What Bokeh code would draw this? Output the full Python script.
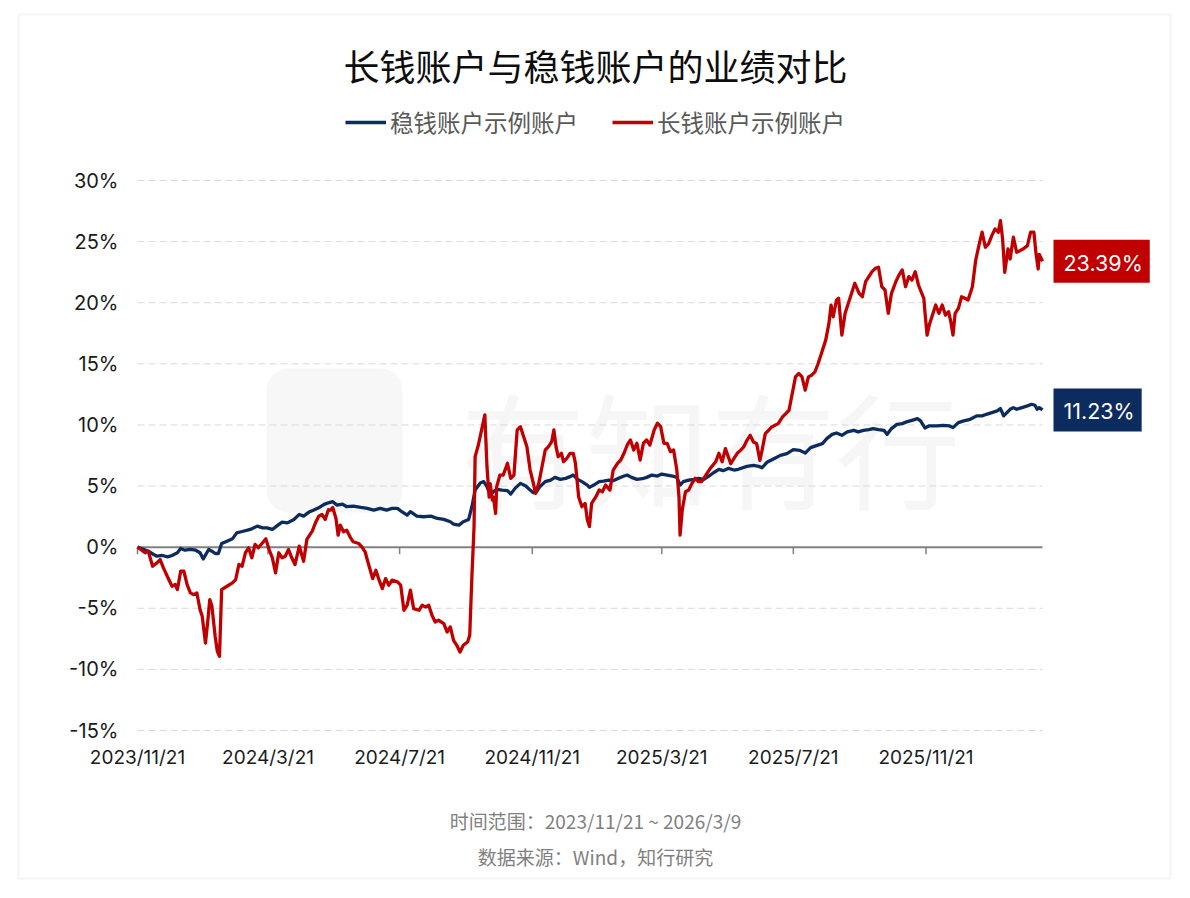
import pandas as pd
from bokeh.plotting import figure
from bokeh.core.properties import value
from bokeh.models import (ColumnDataSource, Range1d, Label, LabelSet, Legend, LegendItem,
                          BoxAnnotation)
from bokeh.embed import file_html
from bokeh.resources import INLINE

# ---------------- data ----------------
START_DATE = "2023-11-21"
END_DATE = "2026-03-09"

title_text = "长钱账户与稳钱账户的业绩对比"
series_names = ["稳钱账户示例账户", "长钱账户示例账户"]
x_tick_labels = ["2023/11/21", "2024/3/21", "2024/7/21", "2024/11/21",
                 "2025/3/21", "2025/7/21", "2025/11/21"]
y_ticks = [-15, -10, -5, 0, 5, 10, 15, 20, 25, 30]
footer_lines = ["时间范围：2023/11/21 ~ 2026/3/9", "数据来源：Wind，知行研究"]
watermark_text = "有知有行"

# (days since start, cumulative return %)
steady_points = [
    (0, 0.0), (6, -0.19), (10, -0.33), (15, -0.60), (18, -0.74), (23, -0.68), (28, -0.79),
    (32, -0.68), (37, -0.46), (40, -0.11), (44, -0.25), (49, -0.19), (54, -0.25), (58, -0.46),
    (61, -0.96), (66, -0.19), (69, -0.33), (72, -0.52), (75, -0.52), (78, 0.30), (83, 0.49),
    (88, 0.68), (92, 1.17), (97, 1.28), (102, 1.39), (106, 1.50), (111, 1.72), (116, 1.58),
    (120, 1.58), (125, 1.45), (129, 1.72), (134, 2.05), (139, 1.99), (145, 2.27), (150, 2.68),
    (154, 2.54), (159, 2.87), (163, 3.03), (168, 3.22), (173, 3.50), (177, 3.63), (181, 3.72),
    (185, 3.44), (190, 3.52), (194, 3.31), (200, 3.36), (207, 3.25), (213, 3.17), (219, 3.03),
    (225, 3.17), (231, 3.03), (236, 3.17), (241, 3.17), (245, 2.90), (250, 2.62), (253, 2.90),
    (259, 2.54), (265, 2.49), (272, 2.54), (278, 2.35), (284, 2.27), (290, 2.08), (293, 1.89),
    (298, 1.80), (302, 2.08), (307, 2.27), (310, 3.31), (313, 4.67), (318, 5.27), (321, 5.36),
    (324, 4.95), (327, 4.26), (330, 4.54), (333, 4.73), (338, 4.67), (343, 4.62), (346, 4.34),
    (350, 4.81), (355, 5.22), (360, 5.00), (364, 4.67), (367, 4.45), (370, 4.54), (373, 4.95),
    (378, 5.36), (383, 5.49), (387, 5.71), (392, 5.55), (397, 5.63), (401, 5.77), (404, 5.90),
    (408, 5.55), (412, 5.36), (417, 5.08), (419, 4.89), (423, 5.08), (428, 5.36), (432, 5.41),
    (437, 5.49), (441, 5.44), (446, 5.63), (451, 5.82), (454, 5.90), (458, 5.71), (463, 5.55),
    (468, 5.60), (472, 5.71), (477, 5.90), (482, 5.82), (486, 5.98), (491, 5.90), (496, 5.82),
    (500, 5.71), (503, 5.08), (506, 5.36), (511, 5.49), (516, 5.55), (520, 5.63), (525, 5.55),
    (529, 5.77), (534, 6.09), (539, 6.37), (543, 6.26), (548, 6.45), (553, 6.31), (557, 6.37),
    (565, 6.61), (571, 6.69), (576, 6.61), (579, 6.50), (584, 6.97), (590, 7.24), (596, 7.51),
    (602, 7.65), (608, 7.98), (614, 7.92), (619, 7.70), (624, 8.14), (630, 8.33), (635, 8.47),
    (639, 8.88), (644, 9.23), (648, 9.34), (653, 9.15), (658, 9.43), (664, 9.56), (668, 9.43),
    (673, 9.56), (678, 9.62), (682, 9.70), (687, 9.62), (692, 9.56), (695, 9.23), (699, 9.70),
    (704, 10.05), (709, 10.11), (713, 10.25), (718, 10.38), (723, 10.52), (726, 10.33),
    (730, 9.75), (734, 9.93), (741, 9.92), (747, 9.97), (753, 9.92), (756, 9.78), (761, 10.19),
    (766, 10.33), (772, 10.46), (778, 10.74), (783, 10.74), (787, 10.87), (792, 11.01),
    (797, 11.15), (800, 11.34), (803, 10.74), (806, 11.01), (809, 11.28), (812, 11.42),
    (815, 11.28), (820, 11.42), (825, 11.56), (829, 11.69), (832, 11.61), (834, 11.28),
    (836, 11.42), (839, 11.23),
]

long_points = [
    (0, 0.0), (3, -0.19), (7, -0.46), (10, -0.33), (14, -1.56), (18, -1.29), (21, -1.01),
    (24, -1.69), (29, -2.65), (32, -3.20), (35, -3.06), (37, -3.47), (40, -1.97), (43, -1.97),
    (46, -3.06), (49, -3.74), (52, -3.88), (55, -3.74), (58, -5.11), (60, -5.66), (63, -7.84),
    (65, -6.20), (67, -4.29), (69, -4.84), (72, -7.30), (74, -8.52), (76, -8.93), (78, -3.47),
    (83, -3.20), (88, -2.92), (91, -2.65), (94, -1.42), (97, -1.56), (100, -0.46), (103, -0.05),
    (106, -0.87), (109, 0.22), (112, -0.05), (116, 0.36), (119, 0.68), (122, -0.19), (125, -0.87),
    (128, -2.10), (131, -0.46), (134, -0.87), (137, -0.74), (140, -0.19), (143, -0.87),
    (146, -1.42), (150, 0.08), (154, -1.15), (157, 0.63), (162, 1.31), (165, 2.00), (168, 2.53),
    (171, 2.68), (174, 2.27), (177, 3.06), (179, 3.03), (181, 3.25), (184, 2.35), (186, 0.98),
    (188, 1.80), (191, 1.26), (194, 1.39), (197, 0.85), (200, 0.44), (205, 0.30), (208, 0.03),
    (211, -0.38), (214, -1.34), (218, -2.57), (221, -1.89), (224, -2.70), (227, -3.39),
    (230, -2.57), (233, -3.11), (236, -2.70), (241, -2.84), (244, -3.11), (247, -5.16),
    (250, -4.75), (253, -3.52), (256, -5.03), (261, -5.16), (264, -4.75), (267, -4.89),
    (270, -4.75), (273, -5.57), (276, -6.12), (279, -5.98), (284, -6.26), (287, -6.94),
    (290, -6.53), (293, -7.62), (296, -8.03), (299, -8.58), (302, -8.03), (306, -7.76),
    (308, -7.21), (310, -2.43), (312, 1.67), (313, 7.41), (316, 8.36), (319, 9.59), (322, 10.82),
    (324, 6.56), (326, 4.10), (327, 5.19), (329, 3.85), (330, 4.10), (332, 2.76), (333, 4.95),
    (336, 5.90), (339, 5.90), (343, 6.86), (346, 5.63), (349, 5.90), (352, 9.59), (355, 9.86),
    (358, 9.04), (361, 8.22), (364, 6.31), (367, 5.22), (369, 4.40), (372, 5.22), (375, 6.58),
    (378, 7.95), (381, 8.22), (384, 8.63), (386, 9.59), (388, 8.22), (390, 7.40), (393, 7.68),
    (395, 6.99), (398, 7.27), (401, 7.68), (404, 7.68), (406, 6.86), (409, 4.10), (412, 3.31),
    (415, 3.58), (417, 2.24), (419, 1.69), (421, 3.58), (425, 4.13), (428, 4.67), (431, 4.54),
    (434, 5.08), (438, 4.67), (441, 6.31), (445, 6.86), (448, 7.13), (451, 7.68), (454, 8.36),
    (457, 8.77), (460, 7.95), (463, 8.50), (466, 7.13), (469, 8.50), (472, 8.77), (475, 8.36),
    (479, 9.59), (482, 10.14), (485, 9.86), (488, 8.50), (491, 8.50), (494, 7.81), (497, 7.95),
    (500, 6.31), (502, 4.10), (503, 0.98), (505, 3.03), (508, 4.54), (511, 4.67), (514, 5.22),
    (517, 5.63), (520, 5.36), (523, 5.36), (526, 5.77), (531, 6.45), (536, 6.99), (539, 7.68),
    (542, 6.99), (545, 8.06), (550, 6.83), (553, 7.27), (556, 7.68), (559, 7.92), (562, 8.20),
    (565, 8.74), (568, 9.15), (571, 8.61), (574, 8.47), (577, 7.10), (579, 7.92), (582, 9.29),
    (585, 9.56), (588, 9.84), (591, 9.97), (594, 10.11), (598, 10.66), (601, 10.93), (604, 11.20),
    (607, 12.57), (610, 13.93), (613, 14.21), (616, 13.93), (619, 12.84), (622, 13.93),
    (625, 14.07), (628, 14.34), (631, 15.03), (635, 16.12), (638, 16.94), (641, 18.31),
    (643, 19.81), (645, 18.85), (648, 20.22), (650, 20.36), (653, 17.35), (656, 19.13),
    (659, 19.95), (662, 20.77), (665, 21.59), (669, 20.77), (672, 20.49), (675, 21.72),
    (678, 22.13), (681, 22.54), (684, 22.81), (687, 22.90), (690, 21.31), (693, 21.04),
    (696, 19.13), (699, 20.77), (703, 21.72), (706, 22.27), (709, 22.68), (712, 21.31),
    (715, 22.13), (718, 21.86), (721, 22.54), (724, 21.45), (726, 21.00), (729, 20.36),
    (730, 19.26), (732, 17.35), (734, 18.17), (737, 18.99), (740, 19.81), (743, 19.13),
    (746, 19.81), (749, 18.99), (752, 19.26), (754, 18.44), (756, 17.35), (758, 19.13),
    (761, 19.54), (764, 20.49), (767, 20.36), (770, 20.22), (774, 21.31), (777, 23.44),
    (780, 24.67), (783, 25.77), (786, 24.54), (789, 24.81), (792, 25.49), (795, 26.04),
    (798, 25.77), (800, 26.72), (802, 25.22), (804, 22.49), (807, 24.40), (809, 23.58),
    (812, 25.36), (815, 24.13), (818, 24.26), (821, 24.40), (825, 24.67), (828, 25.77),
    (831, 25.77), (833, 24.00), (835, 22.76), (836, 23.95), (839, 23.39),
]

# ---------------- layout & styles ----------------
W, H = 1190, 898
PLOT_LEFT, PLOT_RIGHT, PLOT_TOP, PLOT_BOTTOM = 137, 1042, 180, 730   # px of the plot box
BLUE = "#0c2b5e"
RED = "#c00000"
GRID = "#d9d9d9"
AXIS = "#808080"
CJK = "Noto Sans CJK SC"
NUM = "Inter"

base = pd.Timestamp(START_DATE)


def to_ms(ts):
    return ts.value / 1e6


def to_dates(days):
    return [base + pd.Timedelta(days=int(d)) for d in days]


def parse_label(s):
    y, m, d = (int(v) for v in s.split("/"))
    return pd.Timestamp(year=y, month=m, day=d)


start_ms = to_ms(base)
end_ms = to_ms(pd.Timestamp(END_DATE))
y_min, y_max = min(y_ticks), max(y_ticks)
tick_ms = [to_ms(parse_label(s)) for s in x_tick_labels]

# ranges chosen so that the plot box sits at the pixel box above, while the
# frame spans the whole canvas (titles, legend and labels live inside it)
ms_per_px = (end_ms - start_ms) / (PLOT_RIGHT - PLOT_LEFT)
val_per_px = (y_max - y_min) / (PLOT_BOTTOM - PLOT_TOP)
x_range = Range1d(start_ms - PLOT_LEFT * ms_per_px, start_ms + (W - PLOT_LEFT) * ms_per_px)
y_range = Range1d(y_min - (H - PLOT_BOTTOM) * val_per_px, y_max + PLOT_TOP * val_per_px)

s_days, s_vals = zip(*steady_points)
l_days, l_vals = zip(*long_points)
src_steady = ColumnDataSource(dict(x=to_dates(s_days), y=list(s_vals)))
src_long = ColumnDataSource(dict(x=to_dates(l_days), y=list(l_vals)))

p = figure(width=W, height=H, title=None, output_backend="svg", toolbar_location=None,
           x_axis_location=None, y_axis_location=None,
           x_range=x_range, y_range=y_range, min_border=0,
           background_fill_color="white", border_fill_color="white",
           outline_line_color=None)
p.grid.visible = False

# outer border
p.add_layout(BoxAnnotation(left=18, right=1170, top=H - 14, bottom=H - 878,
                           left_units="screen", right_units="screen",
                           top_units="screen", bottom_units="screen",
                           fill_alpha=0, line_color=GRID, line_width=2, level="underlay"))

# watermark (logo tile + brand text)
p.add_layout(BoxAnnotation(left=266, right=402, top=H - 368, bottom=H - 512,
                           left_units="screen", right_units="screen",
                           top_units="screen", bottom_units="screen",
                           fill_color="#f7f7f7", fill_alpha=1, line_color=None,
                           border_radius=22, level="underlay"))
p.add_layout(Label(x=710, y=H - 445, x_units="screen", y_units="screen", text=watermark_text,
                   text_font=CJK, text_font_size="125px", text_color="#f6f6f6",
                   text_align="center", text_baseline="middle", level="underlay"))

# horizontal dashed grid lines at the y ticks
grid_src = ColumnDataSource(dict(y=[t for t in y_ticks if t != 0]))
p.segment(x0=start_ms, x1=end_ms, y0="y", y1="y", source=grid_src,
          line_color=GRID, line_width=1, line_dash="7 4")

# zero line with downward ticks at the date ticks
p.segment(x0=[start_ms], x1=[end_ms], y0=[0], y1=[0], line_color=AXIS, line_width=2)
p.segment(x0=tick_ms, x1=tick_ms, y0=[0] * len(tick_ms), y1=[-7 * val_per_px] * len(tick_ms),
          line_color=AXIS, line_width=1.5)

# tick labels
ylab_src = ColumnDataSource(dict(y=y_ticks, text=[f"{t}%" for t in y_ticks],
                                 x=[start_ms] * len(y_ticks)))
p.add_layout(LabelSet(x="x", y="y", text="text", source=ylab_src, x_offset=-19,
                      text_align="right", text_baseline="middle", text_font=value(NUM),
                      text_font_size=value("20px"), text_color="#1a1a1a"))
xlab_src = ColumnDataSource(dict(x=tick_ms, text=x_tick_labels, y=[y_min] * len(tick_ms)))
p.add_layout(LabelSet(x="x", y="y", text="text", source=xlab_src, y_offset=-27,
                      text_align="center", text_baseline="middle", text_font=value(NUM),
                      text_font_size=value("19px"), text_color="#1a1a1a"))

# lines
r_blue = p.line("x", "y", source=src_steady, line_color=BLUE, line_width=3.3,
                line_join="round")
r_red = p.line("x", "y", source=src_long, line_color=RED, line_width=3.3,
               line_join="round")

# legend
legend = Legend(items=[LegendItem(label=series_names[0], renderers=[r_blue]),
                       LegendItem(label=series_names[1], renderers=[r_red])],
                orientation="horizontal", location=(345, H - 139),
                glyph_width=41, glyph_height=24, label_height=24, label_standoff=4,
                spacing=34, padding=0, margin=0, border_line_color=None,
                background_fill_alpha=0, label_text_font=CJK,
                label_text_font_size="23.5px", label_text_color="#595959")
p.add_layout(legend, "center")

# end value labels
last_ms = to_ms(base + pd.Timedelta(days=int(l_days[-1])))
for vals, color in ((l_vals, RED), (s_vals, BLUE)):
    p.add_layout(Label(x=last_ms, y=vals[-1], text=f"{vals[-1]:.2f}%", x_offset=11,
                       text_align="left", text_baseline="middle", text_color="white",
                       text_font=NUM, text_font_size="21.5px",
                       background_fill_color=color, padding=(10, 7, 10, 7)))

# title
p.add_layout(Label(x=595, y=H - 64, x_units="screen", y_units="screen", text=title_text,
                   text_font=CJK, text_font_size="36px", text_color="#0d0d0d",
                   text_align="center", text_baseline="middle"))

# footer
for i, line in enumerate(footer_lines):
    p.add_layout(Label(x=595, y=H - 820 - 36 * i, x_units="screen", y_units="screen",
                       text=line, text_font=CJK, text_font_size="19px", text_color="#808080",
                       text_align="center", text_baseline="middle"))

open("out.html", "w").write(file_html(p, INLINE))
